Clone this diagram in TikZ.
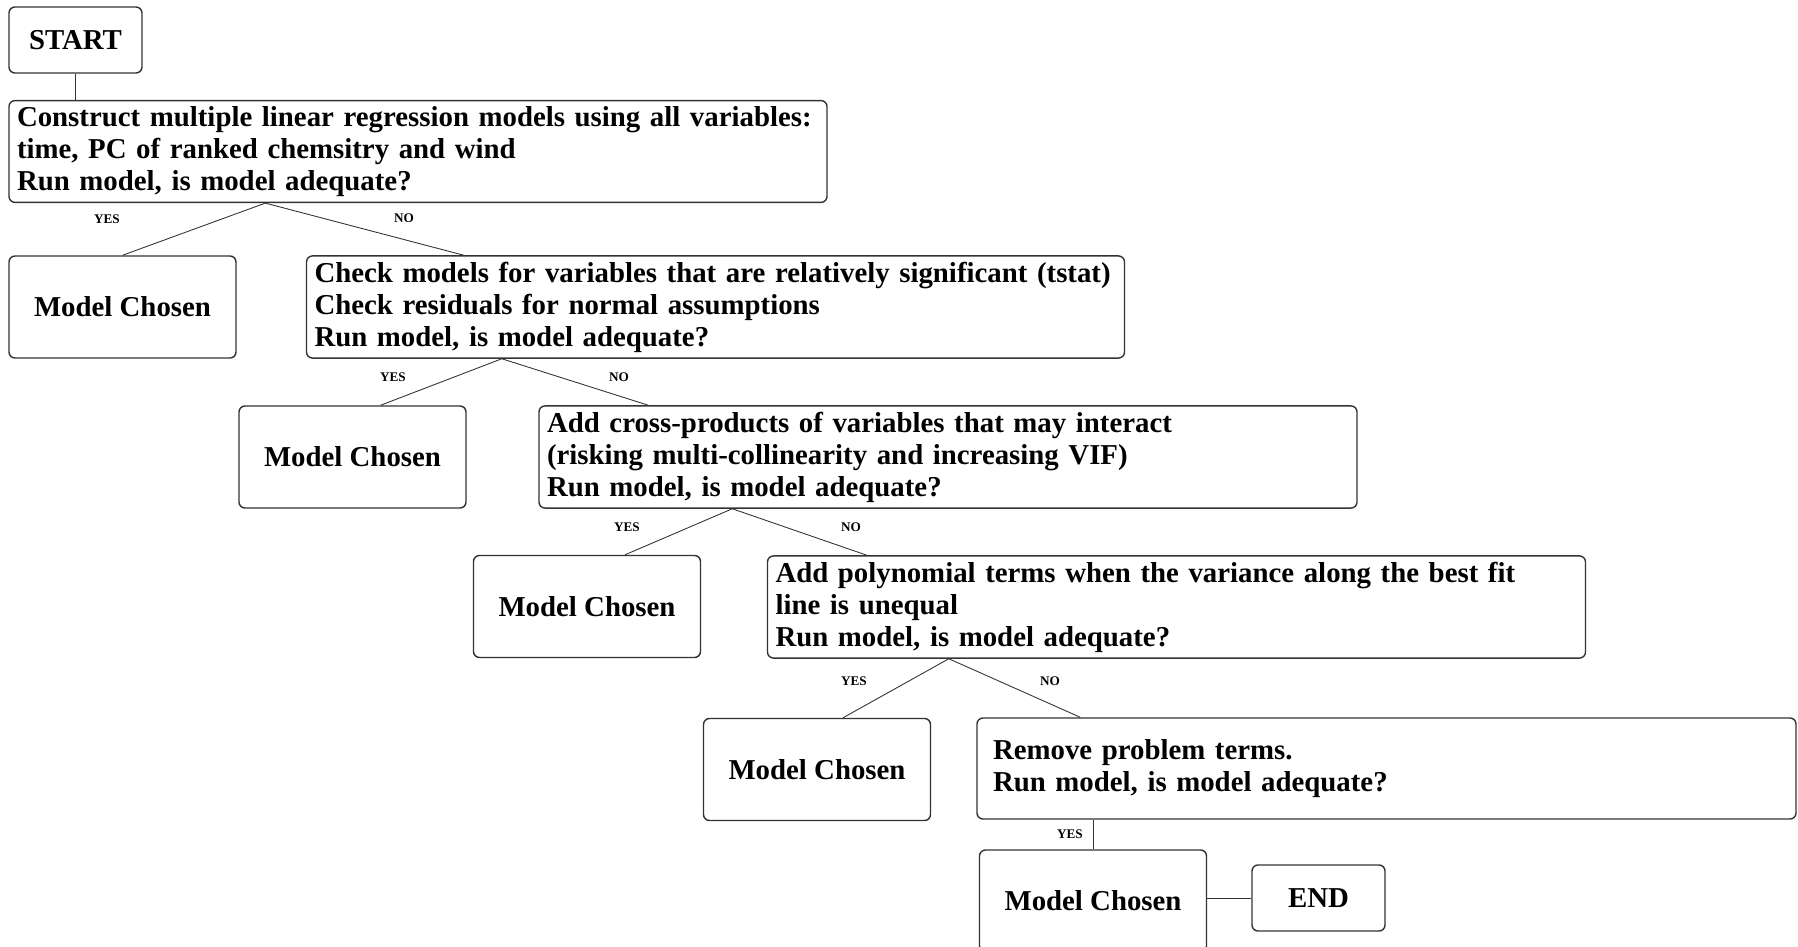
\documentclass[tikz,border=0pt]{standalone}
\usepackage{fontspec}
\setmainfont{Liberation Serif}
\usepackage{tikz}

\begin{document}
\begin{tikzpicture}[
  task/.style={rectangle, rounded corners=0.12cm, draw=black!80, line width=0.8pt, inner xsep=0.16cm, text width=16.04cm, minimum height=2.02cm, align=left, font=\bfseries\fontsize{16.4}{18.2}\selectfont},
  chosen/.style={rectangle, rounded corners=0.12cm, draw=black!80, line width=0.8pt, minimum width=4.54cm, minimum height=2.04cm, font=\bfseries\fontsize{16.4}{18.2}\selectfont},
  term/.style={rectangle, rounded corners=0.12cm, draw=black!80, line width=0.8pt, minimum width=2.66cm, minimum height=1.32cm, font=\bfseries\fontsize{16.4}{18.2}\selectfont},
  link/.style={draw=black!80, line width=0.5pt},
  answer/.style={font=\bfseries\fontsize{7.5}{9}\selectfont}
]
\useasboundingbox (0,0) rectangle (35.96,-18.94);
\clip (0,0) rectangle (35.96,-18.94);

% Steps down the staircase
\node[term] (start) at (1.51,-0.80) {START};
\node[task] (b1) at (8.36,-3.03) {Construct multiple linear regression models using all variables:\\time, PC of ranked chemsitry and wind\\Run model, is model adequate?};
\node[chosen] (mc1) at (2.45,-6.14) {Model Chosen};
\node[task] (b2) at (14.31,-6.14) {Check models for variables that are relatively significant (tstat)\\Check residuals for normal assumptions\\Run model, is model adequate?};
\node[chosen] (mc2) at (7.05,-9.14) {Model Chosen};
\node[task] (b3) at (18.96,-9.14) {Add cross-products of variables that may interact\\(risking multi-collinearity and increasing VIF)\\Run model, is model adequate?};
\node[chosen] (mc3) at (11.74,-12.13) {Model Chosen};
\node[task] (b4) at (23.53,-12.14) {Add polynomial terms when the variance along the best fit\\line is unequal\\Run model, is model adequate?};
\node[chosen] (mc4) at (16.34,-15.39) {Model Chosen};
\node[task, inner xsep=0.32cm, text width=15.74cm] (b5) at (27.73,-15.37) {Remove problem terms.\\Run model, is model adequate?};
\node[chosen] (mc5) at (21.86,-18.02) {Model Chosen};
\node[term] (end) at (26.37,-17.96) {END};

% Answers
\node[answer] (yes1) at (2.14,-4.38) {YES};
\node[answer] (no1) at (8.08,-4.36) {NO};
\node[answer] (yes2) at (7.86,-7.54) {YES};
\node[answer] (no2) at (12.38,-7.54) {NO};
\node[answer] (yes3) at (12.54,-10.54) {YES};
\node[answer] (no3) at (17.02,-10.54) {NO};
\node[answer] (yes4) at (17.08,-13.62) {YES};
\node[answer] (no4) at (21.00,-13.62) {NO};
\node[answer] (yes5) at (21.40,-16.68) {YES};

% Branches
\draw[link] (start.south) -- (start.south |- b1.north);
\draw[link] ([xshift=5.14cm]b1.south west) -- (mc1.north);
\draw[link] ([xshift=5.14cm]b1.south west) -- ([xshift=3.16cm]b2.north west);
\draw[link] ([xshift=3.92cm]b2.south west) -- ([xshift=0.56cm]mc2.north);
\draw[link] ([xshift=3.92cm]b2.south west) -- ([xshift=2.20cm]b3.north west);
\draw[link] ([xshift=3.88cm]b3.south west) -- ([xshift=0.76cm]mc3.north);
\draw[link] ([xshift=3.88cm]b3.south west) -- ([xshift=2.00cm]b4.north west);
\draw[link] ([xshift=3.64cm]b4.south west) -- ([xshift=0.52cm]mc4.north);
\draw[link] ([xshift=3.64cm]b4.south west) -- ([xshift=2.08cm]b5.north west);
\draw[link] (mc5.north |- b5.south) -- (mc5.north);
\draw[link] (mc5.east |- end.west) -- (end.west);

\end{tikzpicture}
\end{document}
